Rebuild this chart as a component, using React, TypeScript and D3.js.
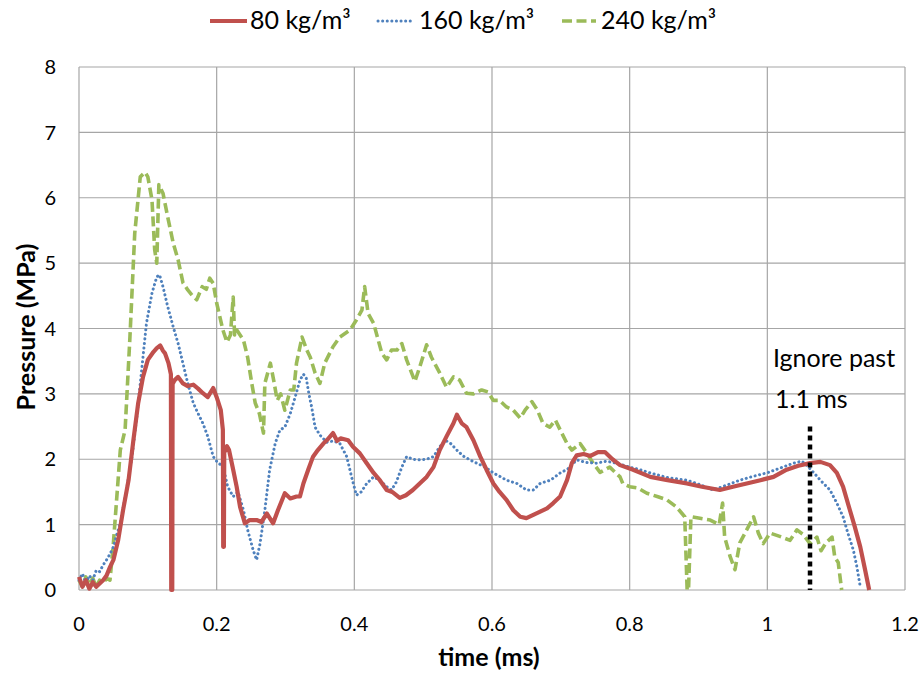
import React from "react";
import * as d3 from "d3";

const xTicks = [0, 0.2, 0.4, 0.6, 0.8, 1, 1.2];
const yTicks = [0, 1, 2, 3, 4, 5, 6, 7, 8];
const seriesNames = ["80 kg/m³", "160 kg/m³", "240 kg/m³"];
const seriesColors = ["#C0504D", "#4F81BD", "#9BBB59"];
const annotationLines = ["Ignore past", "1.1 ms"];
const cutoffTime = 1.062;

const red80: [number, number][] = [
  [0,0.2],[0.005,0.05],[0.01,0.15],[0.015,0.02],[0.02,0.12],[0.025,0.05],[0.03,0.1],[0.035,0.15],[0.04,0.22],[0.045,0.35],[0.05,0.46],[0.057,0.77],[0.064,1.22],[0.072,1.68],[0.079,2.29],[0.086,2.86],[0.093,3.26],[0.1,3.52],[0.108,3.64],[0.113,3.7],[0.118,3.74],[0.122,3.66],[0.125,3.62],[0.13,3.47],[0.1335,3.3],[0.134,0],[0.1355,0],[0.136,3.15],[0.139,3.21],[0.144,3.26],[0.151,3.16],[0.158,3.12],[0.166,3.14],[0.173,3.08],[0.18,3.01],[0.187,2.95],[0.195,3.09],[0.2,2.95],[0.206,2.75],[0.209,2.45],[0.2095,0.66],[0.2105,0.66],[0.211,2.1],[0.215,2.2],[0.218,2.14],[0.224,1.84],[0.229,1.58],[0.234,1.27],[0.241,1.02],[0.248,1.07],[0.258,1.07],[0.265,1.04],[0.273,1.17],[0.282,1.02],[0.289,1.22],[0.299,1.48],[0.307,1.4],[0.316,1.43],[0.321,1.43],[0.326,1.63],[0.333,1.84],[0.34,2.04],[0.347,2.14],[0.355,2.24],[0.36,2.29],[0.369,2.4],[0.375,2.28],[0.38,2.32],[0.391,2.29],[0.398,2.19],[0.408,2.09],[0.418,1.94],[0.428,1.79],[0.437,1.68],[0.447,1.53],[0.455,1.5],[0.466,1.41],[0.475,1.45],[0.485,1.53],[0.495,1.63],[0.505,1.73],[0.515,1.88],[0.524,2.14],[0.534,2.35],[0.544,2.55],[0.549,2.68],[0.556,2.55],[0.563,2.49],[0.573,2.29],[0.583,2.04],[0.592,1.84],[0.602,1.63],[0.611,1.5],[0.621,1.38],[0.631,1.22],[0.641,1.12],[0.65,1.1],[0.66,1.15],[0.67,1.2],[0.68,1.25],[0.689,1.33],[0.699,1.43],[0.709,1.68],[0.716,1.94],[0.723,2.06],[0.733,2.08],[0.743,2.05],[0.754,2.11],[0.764,2.11],[0.775,2.0],[0.786,1.91],[0.805,1.84],[0.83,1.73],[0.855,1.68],[0.883,1.63],[0.905,1.58],[0.931,1.53],[0.95,1.58],[0.97,1.63],[0.99,1.68],[1.009,1.73],[1.028,1.84],[1.045,1.9],[1.062,1.94],[1.077,1.96],[1.091,1.91],[1.101,1.79],[1.11,1.58],[1.12,1.22],[1.127,0.97],[1.135,0.66],[1.142,0.31],[1.148,0.0]
];

const blue160: [number, number][] = [
  [0,0.15],[0.005,0.25],[0.01,0.1],[0.015,0.22],[0.02,0.15],[0.025,0.3],[0.03,0.28],[0.035,0.38],[0.04,0.46],[0.045,0.55],[0.05,0.66],[0.055,0.85],[0.06,1.02],[0.069,1.53],[0.077,2.04],[0.084,2.65],[0.091,3.36],[0.098,4.08],[0.106,4.54],[0.113,4.79],[0.117,4.82],[0.122,4.64],[0.129,4.33],[0.137,4.02],[0.144,3.77],[0.151,3.47],[0.158,3.16],[0.166,2.86],[0.173,2.7],[0.18,2.55],[0.187,2.35],[0.195,2.04],[0.202,1.94],[0.209,1.9],[0.216,1.58],[0.224,1.43],[0.231,1.5],[0.239,1.22],[0.245,0.92],[0.253,0.61],[0.258,0.46],[0.263,0.71],[0.27,1.22],[0.277,1.84],[0.285,2.24],[0.292,2.45],[0.299,2.49],[0.307,2.7],[0.314,2.95],[0.321,3.21],[0.326,3.3],[0.33,3.25],[0.334,3.0],[0.338,2.8],[0.343,2.49],[0.35,2.37],[0.36,2.26],[0.37,2.28],[0.379,2.24],[0.389,2.04],[0.396,1.73],[0.403,1.45],[0.41,1.5],[0.418,1.63],[0.428,1.73],[0.437,1.68],[0.447,1.58],[0.454,1.53],[0.461,1.65],[0.469,1.88],[0.476,2.04],[0.485,2.0],[0.495,1.99],[0.505,2.0],[0.515,2.04],[0.524,2.19],[0.532,2.29],[0.54,2.24],[0.549,2.14],[0.558,2.05],[0.568,1.99],[0.578,1.94],[0.59,1.88],[0.602,1.79],[0.611,1.74],[0.621,1.68],[0.636,1.63],[0.65,1.53],[0.66,1.53],[0.67,1.63],[0.685,1.68],[0.699,1.79],[0.71,1.85],[0.723,1.99],[0.737,1.95],[0.752,1.94],[0.766,1.97],[0.781,1.94],[0.8,1.88],[0.815,1.84],[0.83,1.79],[0.855,1.72],[0.883,1.68],[0.9,1.62],[0.921,1.53],[0.94,1.6],[0.96,1.68],[0.98,1.74],[0.999,1.79],[1.02,1.87],[1.038,1.94],[1.05,1.97],[1.057,1.91],[1.067,1.8],[1.077,1.68],[1.091,1.53],[1.101,1.33],[1.11,1.12],[1.117,0.87],[1.125,0.61],[1.13,0.36],[1.135,0.05]
];

const green240: [number, number][] = [
  [0,0.15],[0.005,0.05],[0.01,0.2],[0.015,0.08],[0.02,0.18],[0.025,0.05],[0.03,0.15],[0.035,0.1],[0.04,0.18],[0.045,0.15],[0.05,0.72],[0.06,2.14],[0.067,2.45],[0.074,3.87],[0.081,5.46],[0.089,6.32],[0.096,6.39],[0.1,6.32],[0.106,5.97],[0.11,5.2],[0.113,5.0],[0.116,6.2],[0.122,6.07],[0.129,5.7],[0.137,5.3],[0.144,5.05],[0.151,4.7],[0.158,4.59],[0.165,4.5],[0.171,4.44],[0.179,4.64],[0.185,4.6],[0.19,4.77],[0.195,4.69],[0.2,4.39],[0.209,3.98],[0.215,3.79],[0.22,3.9],[0.224,4.48],[0.226,3.9],[0.229,3.98],[0.239,3.82],[0.245,3.56],[0.251,3.16],[0.256,2.86],[0.262,2.7],[0.268,2.4],[0.27,3.16],[0.278,3.47],[0.283,3.2],[0.288,2.9],[0.293,3.0],[0.299,2.75],[0.307,3.06],[0.312,3.06],[0.316,3.47],[0.324,3.87],[0.331,3.67],[0.336,3.56],[0.343,3.32],[0.35,3.16],[0.357,3.47],[0.369,3.72],[0.379,3.87],[0.394,3.98],[0.403,4.13],[0.411,4.28],[0.415,4.64],[0.42,4.23],[0.428,4.08],[0.44,3.62],[0.447,3.52],[0.454,3.67],[0.462,3.67],[0.469,3.77],[0.476,3.52],[0.488,3.19],[0.495,3.41],[0.505,3.75],[0.512,3.56],[0.524,3.32],[0.534,3.1],[0.544,3.26],[0.553,3.21],[0.563,3.01],[0.573,3.0],[0.585,3.06],[0.594,3.03],[0.602,2.9],[0.611,2.9],[0.621,2.8],[0.631,2.75],[0.641,2.63],[0.648,2.75],[0.658,2.88],[0.666,2.75],[0.674,2.55],[0.684,2.49],[0.692,2.6],[0.699,2.45],[0.709,2.24],[0.716,2.14],[0.728,2.24],[0.738,2.09],[0.747,1.94],[0.757,1.8],[0.771,1.88],[0.786,1.73],[0.79,1.63],[0.8,1.58],[0.812,1.56],[0.825,1.48],[0.84,1.43],[0.854,1.38],[0.868,1.27],[0.88,1.12],[0.8835,0],[0.8855,0],[0.889,1.12],[0.9,1.1],[0.917,1.07],[0.93,1.0],[0.935,1.33],[0.938,0.81],[0.946,0.51],[0.953,0.31],[0.96,0.72],[0.97,0.92],[0.98,1.12],[0.987,0.87],[0.994,0.71],[1.004,0.87],[1.018,0.82],[1.033,0.76],[1.043,0.92],[1.052,0.85],[1.062,0.71],[1.072,0.81],[1.078,0.6],[1.085,0.72],[1.094,0.81],[1.098,0.5],[1.103,0.42],[1.108,0.0]
];

const allSeries = [red80, blue160, green240];

const W = 924, H = 674;
const left = 79, right = 905, top = 67, bottom = 590;
const FONT = "Lato, 'Open Sans', sans-serif";

export default function App() {
  const x = d3.scaleLinear().domain([0, 1.2]).range([left, right]);
  const y = d3.scaleLinear().domain([0, 8]).range([bottom, top]);
  const line = d3.line<[number, number]>().x(d => x(d[0])).y(d => y(d[1]));

  const styles = [
    { w: 4.2, dash: undefined as string | undefined, cap: "butt" },
    { w: 3, dash: "0.1 4.5", cap: "round" },
    { w: 3.6, dash: "10 4.5", cap: "butt" },
  ];

  const legendItems = [
    { x0: 210, x1: 247, tx: 250 },
    { x0: 378, x1: 411, tx: 419 },
    { x0: 562, x1: 596, tx: 601 },
  ];

  return (
    <svg width={W} height={H} style={{ position: "absolute", left: 0, top: 0, background: "#fff" }} fontFamily={FONT}>
      <rect x={0} y={0} width={W} height={H} fill="#fff" />
      {yTicks.map(t => (
        <line key={"gy" + t} x1={left} x2={right} y1={y(t)} y2={y(t)} stroke="#a6a6a6" strokeWidth={1.2} />
      ))}
      {xTicks.map(t => (
        <line key={"gx" + t} x1={x(t)} x2={x(t)} y1={top} y2={bottom} stroke="#a6a6a6" strokeWidth={1.2} />
      ))}
      {[2, 1, 0].map(i => (
        <path key={"s" + i} d={line(allSeries[i]) || ""} fill="none" stroke={seriesColors[i]}
          strokeWidth={styles[i].w} strokeDasharray={styles[i].dash} strokeLinecap={styles[i].cap as any} strokeLinejoin="round" />
      ))}
      <line x1={x(cutoffTime)} x2={x(cutoffTime)} y1={y(2.5)} y2={y(0)} stroke="#000" strokeWidth={4.5} strokeDasharray="5 4" />
      <text x={773} y={367} fontSize={25} fill="#000">{annotationLines[0]}</text>
      <text x={775} y={408} fontSize={25} fill="#000">{annotationLines[1]}</text>
      {yTicks.map(t => (
        <text key={"yt" + t} x={56} y={y(t)} dy="0.36em" textAnchor="end" fontSize={20} fill="#000">{t}</text>
      ))}
      {xTicks.map(t => (
        <text key={"xt" + t} x={x(t)} y={631} textAnchor="middle" fontSize={20} fill="#000">{String(t)}</text>
      ))}
      <text x={489} y={666} textAnchor="middle" fontSize={25} fontWeight="bold" fill="#000">time (ms)</text>
      <text transform={`translate(35,327) rotate(-90)`} textAnchor="middle" fontSize={25} fontWeight="bold" fill="#000">Pressure (MPa)</text>
      {legendItems.map((it, i) => (
        <g key={"lg" + i}>
          <line x1={it.x0} x2={it.x1} y1={21} y2={21} stroke={seriesColors[i]}
            strokeWidth={styles[i].w} strokeDasharray={styles[i].dash} strokeLinecap={styles[i].cap as any} />
          <text x={it.tx} y={29} fontSize={25} fill="#000">{seriesNames[i]}</text>
        </g>
      ))}
    </svg>
  );
}
